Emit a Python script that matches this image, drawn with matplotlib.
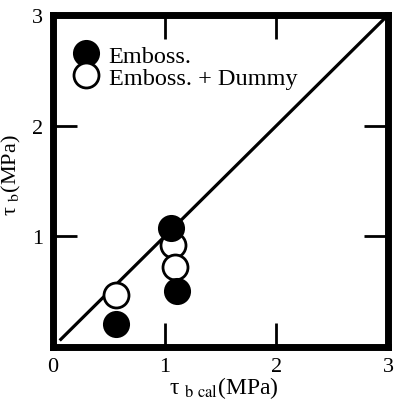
import numpy as np
import matplotlib.pyplot as plt

plt.rcParams['font.family'] = ['Liberation Serif', 'DejaVu Serif']
plt.rcParams['mathtext.fontset'] = 'stix'

# measured vs calculated bond strength, MPa
emboss_x = [0.56, 1.06, 1.11]
emboss_y = [0.21, 1.08, 0.51]
dummy_x = [0.56, 1.07, 1.09]
dummy_y = [0.47, 0.92, 0.72]
x_ticks = [0, 1, 2, 3]
y_ticks = [1, 2, 3]

fig = plt.figure(figsize=(3.94, 4.10), dpi=100)
ax = fig.add_axes([0.1345, 0.151, 0.8505, 0.81])

# 1:1 line
ax.plot([0.07, 3], [0.07, 3], color='black', lw=2.3, zorder=1)

ax.plot(emboss_x, emboss_y, 'o', ms=18, mfc='black', mec='black', mew=1.5,
        zorder=3, label='Emboss.')
ax.plot(dummy_x, dummy_y, 'o', ms=18, mfc='white', mec='black', mew=2,
        zorder=2, label='Emboss. + Dummy')

ax.set_xlim(0, 3)
ax.set_ylim(0, 3)
ax.set_xticks(x_ticks)
ax.set_yticks(y_ticks)
ax.tick_params(direction='in', length=17, width=2, top=True, right=True,
               labelsize=16, pad=7)
for s in ax.spines.values():
    s.set_linewidth(5)

ax.set_xlabel(r'τ $_{\mathrm{b\ cal}}$(MPa)', fontsize=17)
ax.set_ylabel(r'τ $_{\mathrm{b}}$(MPa)', fontsize=16)
ax.xaxis.set_label_coords(0.51, -0.08)
ax.yaxis.set_label_coords(-0.09, 0.52)

ax.legend(loc='upper left', frameon=False, fontsize=17.5, handletextpad=0.3,
          labelspacing=0.0, borderaxespad=0.0, handlelength=1.3,
          borderpad=0.0, bbox_to_anchor=(0.05, 0.91))

fig.savefig('out.png', dpi=100)
